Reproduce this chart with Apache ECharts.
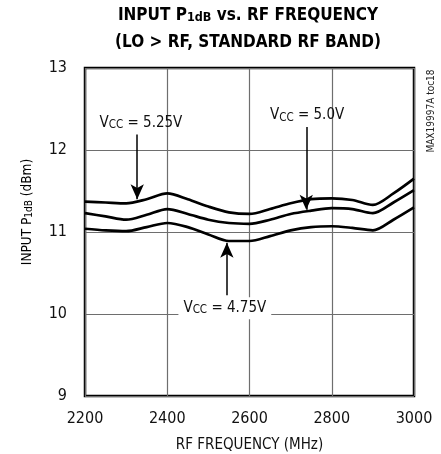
<!DOCTYPE html>
<html>
<head>
<meta charset="utf-8">
<script src="https://cdn.jsdelivr.net/npm/echarts@6/dist/echarts.min.js"></script>
<style>
  html, body { margin: 0; padding: 0; background: #fff; }
  #chart { width: 441px; height: 454px; }
</style>
</head>
<body>
<div id="chart"></div>
<script>
// RF frequency sweep (MHz)
var freq = [2200, 2250, 2300, 2350, 2400, 2450, 2500, 2550, 2600, 2650, 2700, 2750, 2800, 2850, 2900, 2950, 3000];
// Input P1dB (dBm) per supply voltage
var vcc525 = [11.37, 11.36, 11.35, 11.40, 11.47, 11.40, 11.31, 11.24, 11.22, 11.28, 11.35, 11.40, 11.41, 11.39, 11.33, 11.47, 11.65];
var vcc500 = [11.23, 11.19, 11.15, 11.21, 11.28, 11.22, 11.15, 11.11, 11.10, 11.15, 11.22, 11.26, 11.29, 11.28, 11.23, 11.36, 11.51];
var vcc475 = [11.04, 11.02, 11.01, 11.06, 11.11, 11.06, 10.97, 10.89, 10.89, 10.95, 11.02, 11.06, 11.07, 11.05, 11.02, 11.15, 11.30];

var xTicks = [2200, 2400, 2600, 2800, 3000];
var yTicks = [9, 10, 11, 12, 13];

// Callouts: label anchor, arrow start and arrow tip (frequency, dBm)
var calloutVolts = ['5.25V', '5.0V', '4.75V'];
var calloutLabelPos = [[2336, 12.33], [2740, 12.42], [2540, 10.07]];
var calloutArrowFrom = [[2327, 12.19], [2738, 12.28], [2545, 10.23]];
var calloutArrowTo = [[2327, 11.40], [2738, 11.27], [2545, 10.87]];

var FONT = '"DejaVu Sans Condensed", Roboto, sans-serif';

function pairs(ys) {
  return freq.map(function (f, i) { return [f, ys[i]]; });
}

var vccRich = {
  v: { fontFamily: FONT, fontSize: 15, color: '#111' },
  s: { fontFamily: FONT, fontSize: 11.5, color: '#111', padding: [4, 0, 0, 0] }
};

function curve(name, ys, idx) {
  return {
    name: name,
    type: 'line',
    data: pairs(ys),
    smooth: 0.3,
    symbol: 'none',
    lineStyle: { color: '#000', width: 2.7 },
    z: 3,
    markLine: {
      silent: true,
      symbol: ['none', 'arrow'],
      symbolSize: [10, 15],
      lineStyle: { color: '#000', width: 1.5, type: 'solid' },
      label: { show: false },
      data: [[{ coord: calloutArrowFrom[idx] }, { coord: calloutArrowTo[idx] }]]
    },
    markPoint: {
      silent: true,
      symbol: 'rect',
      symbolSize: 0,
      label: {
        show: true,
        position: 'inside',
        formatter: '{v|V}{s|CC}{v| = ' + calloutVolts[idx] + '}',
        rich: vccRich,
        backgroundColor: idx === 2 ? '#fff' : 'transparent',
        padding: [3, 5, 3, 5]
      },
      data: [{ coord: calloutLabelPos[idx] }]
    }
  };
}

var chart = echarts.init(document.getElementById('chart'), null, { renderer: 'canvas' });

chart.setOption({
  animation: false,
  backgroundColor: '#fff',
  grid: {
    left: 85, right: 27, top: 68, bottom: 58,
    outerBoundsMode: 'none',
    containLabel: false,
    show: true,
    borderColor: '#000',
    borderWidth: 2.5,
    backgroundColor: 'transparent'
  },
  xAxis: {
    type: 'value',
    min: xTicks[0], max: xTicks[xTicks.length - 1], interval: 200,
    name: 'RF FREQUENCY (MHz)',
    nameLocation: 'middle',
    nameGap: 42,
    nameTextStyle: { fontFamily: FONT, fontSize: 15, color: '#111' },
    axisLine: { show: false },
    axisTick: { show: false },
    axisLabel: { fontFamily: FONT, fontSize: 16, color: '#111', margin: 15, formatter: function (v) { return String(v); } },
    splitLine: { show: true, lineStyle: { color: '#6e6e6e', width: 1.2 } }
  },
  yAxis: {
    type: 'value',
    min: yTicks[0], max: yTicks[yTicks.length - 1], interval: 1,
    axisLine: { show: false },
    axisTick: { show: false },
    axisLabel: { fontFamily: FONT, fontSize: 16, color: '#111', margin: 18 },
    splitLine: { show: true, lineStyle: { color: '#6e6e6e', width: 1.2 } }
  },
  graphic: [
    {
      type: 'text',
      x: 248, y: 2,
      style: {
        text: '{b|INPUT P}{sub|1dB}{b| vs. RF FREQUENCY}\n{b|(LO > RF, STANDARD RF BAND)}',
        textAlign: 'center',
        rich: {
          b: { fontFamily: FONT, fontSize: 17, fontWeight: 'bold', color: '#000', lineHeight: 27, align: 'center' },
          sub: { fontFamily: FONT, fontSize: 12.5, fontWeight: 'bold', color: '#000', lineHeight: 27, padding: [5, 0, 0, 0] }
        }
      }
    },
    {
      type: 'text',
      x: 27, y: 212,
      rotation: Math.PI / 2,
      style: {
        text: '{n|INPUT P}{s|1dB}{n| (dBm)}',
        textAlign: 'center',
        textVerticalAlign: 'middle',
        rich: {
          n: { fontFamily: FONT, fontSize: 13.5, color: '#111' },
          s: { fontFamily: FONT, fontSize: 10, color: '#111', padding: [5, 0, 0, 0] }
        }
      }
    },
    {
      type: 'text',
      x: 431, y: 111,
      rotation: Math.PI / 2,
      style: {
        text: 'MAX19997A toc18',
        textAlign: 'center',
        textVerticalAlign: 'middle',
        fontFamily: FONT,
        fontSize: 10,
        fill: '#222'
      }
    }
  ],
  series: [
    curve('VCC = 5.25V', vcc525, 0),
    curve('VCC = 5.0V', vcc500, 1),
    curve('VCC = 4.75V', vcc475, 2)
  ]
});
</script>
</body>
</html>
